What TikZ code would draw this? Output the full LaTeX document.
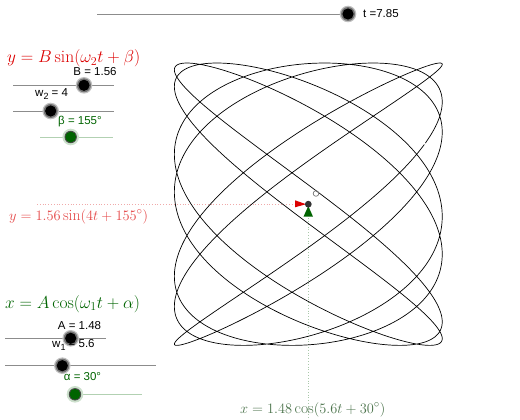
\documentclass[tikz,border=0pt]{standalone}
\usepackage{fontspec}
\setsansfont{Liberation Sans}
\newfontfamily\labfont{Liberation Sans}
\begin{document}
\begin{tikzpicture}[x=1pt,y=-1pt,
  sliderline/.style={draw=black!45,line width=0.8pt},
  gsliderline/.style={draw=green!40!black!30,line width=0.8pt},
  slab/.style={font=\labfont\fontsize{11.5}{13}\selectfont,inner sep=0pt},
  mathred/.style={text={rgb,255:red,220;green,0;blue,0},inner sep=0pt,anchor=base west},
  mathgreen/.style={text={rgb,255:red,0;green,100;blue,0},inner sep=0pt,anchor=base west}]
\definecolor{ggred}{RGB}{220,0,0}
\definecolor{gggreen}{RGB}{0,100,0}
\definecolor{lightred}{RGB}{228,70,70}
\definecolor{lightgreen}{RGB}{75,115,75}
\definecolor{dotred}{RGB}{240,170,170}
\definecolor{dotgreen}{RGB}{170,200,170}
\useasboundingbox (0,0) rectangle (520,420);
% black slider knob
\newcommand{\knob}[2]{%
  \fill[black!25] (#1,#2) circle (8.3);
  \fill[black!55] (#1,#2) circle (7.0);
  \fill[black] (#1,#2) circle (5.6);}
\newcommand{\gknob}[2]{%
  \fill[green!40!black!20] (#1,#2) circle (8.3);
  \fill[black!70] (#1,#2) circle (6.2);
  \fill[gggreen] (#1,#2) circle (5.4);}
% t slider
\draw[sliderline] (97,14) coordinate (t0) -- (348,14) coordinate (t1);
\knob{348}{14}
\node[slab,anchor=west] (tl) at (363,14) {t =7.85};
% y formula
\node[mathred,font=\fontsize{17.5}{20}\selectfont] (yf) at (7,63) {$y = B\sin(\omega_2 t+\beta)$};
% B slider
\draw[sliderline] (13,85.3) -- (114,85.3);
\knob{84}{85.3}
\node[slab] (bl) at (95,72) {B = 1.56};
% w2 slider
\draw[sliderline] (13,111) -- (114,111);
\knob{50.7}{111}
\node[slab,anchor=west] (w2l) at (35,94) {w\raisebox{-3pt}{\fontsize{9}{10}\selectfont 2} = 4};
% beta slider
\draw[gsliderline] (40,137) -- (113,137);
\gknob{70.7}{137}
\node[slab,text=gggreen] (betal) at (80,122) {β = 155°};
% x formula
\node[mathgreen,font=\fontsize{17.5}{20}\selectfont] (xf) at (5,308) {$x = A\cos(\omega_1 t+\alpha)$};
% A slider
\draw[sliderline] (5,338.3) -- (106,338.3);
\knob{70.7}{338.3}
\node[slab] (al) at (79.5,325.5) {A = 1.48};
% w1 slider
\draw[sliderline] (5,365.7) -- (156,365.7);
\knob{62.3}{365.7}
\node[slab,anchor=west] (w1l) at (52,345) {w\raisebox{-3pt}{\fontsize{9}{10}\selectfont 1} = 5.6};
% alpha slider
\draw[gsliderline] (69,394.3) -- (142,394.3);
\gknob{75}{394.3}
\node[slab,text=gggreen] (alphal) at (82.5,377) {α = 30°};
% origin point and guides
\coordinate (O) at (308.3,204.2);
\coordinate (hl) at (37,204.2);
\coordinate (vl) at (308.3,420);
\draw[dotred,dotted,line width=0.8pt] (hl) -- (O);
\draw[dotgreen,dotted,line width=0.8pt] (O) -- (vl);
% curve
\begin{scope}[shift={(O)},x=90.5pt,y=90.5pt]
\draw[black,line width=0.7pt] plot[domain=0:7.854,samples=1400,variable=\u]
  ({1.48*cos(deg(5.6*\u)+30)},{1.56*sin(deg(4*\u)+155)});
\end{scope}
% arrows at point
\fill[ggred] (295,200.3) -- (295,207.3) -- (306,204.2) -- cycle;
\fill[gggreen] (303.5,216.7) -- (313,216.7) -- (308.3,206) -- cycle;
\fill[black!80] (O) circle (3.4);
\draw[black!55,line width=0.7pt] (316,193.5) circle (2.8);
% value labels
\node[mathred,text=lightred,font=\fontsize{15.7}{17}\selectfont] (yv) at (9,220) {$y = 1.56\sin(4t+155^\circ)$};
\node[mathgreen,text=lightgreen,font=\fontsize{15.7}{17}\selectfont] (xv) at (240,413) {$x = 1.48\cos(5.6t+30^\circ)$};
\end{tikzpicture}
\end{document}
